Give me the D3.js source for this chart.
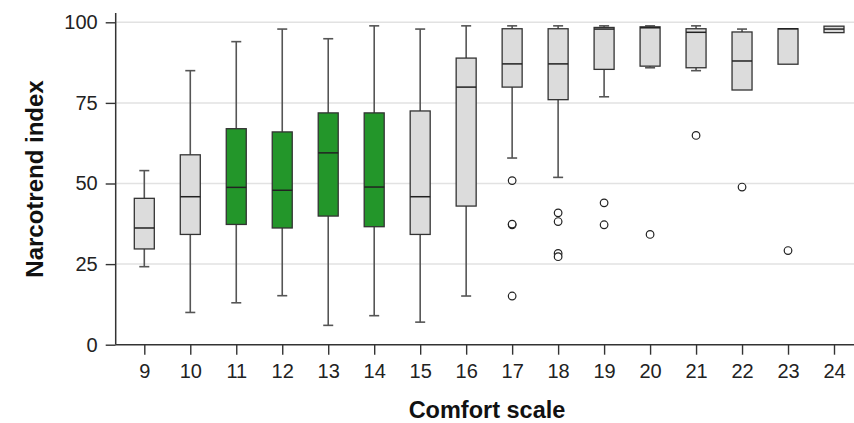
<!DOCTYPE html>
<html>
<head>
<meta charset="utf-8">
<script src="https://cdn.jsdelivr.net/npm/d3@7"></script>
<style>
  html, body { margin: 0; padding: 0; background: #fff; }
  svg { display: block; font-family: "Liberation Sans", Arial, sans-serif; }
</style>
</head>
<body>
<svg id="chart" width="854" height="423"></svg>
<script>
const categories   = [9, 10, 11, 12, 13, 14, 15, 16, 17, 18, 19, 20, 21, 22, 23, 24];
const whiskerHigh  = [54.0, 85.0, 94.0, 97.9, 94.9, 98.9, 97.9, 98.9, 98.9, 98.9, 98.9, 98.9, 98.9, 97.9, 98.0, 98.8];
const q3Values     = [45.4, 58.9, 67.0, 66.0, 71.9, 71.9, 72.5, 88.9, 98.0, 98.0, 98.4, 98.6, 98.0, 97.0, 98.0, 98.8];
const medianValues = [36.2, 45.9, 48.8, 47.9, 59.5, 48.9, 45.9, 79.9, 87.1, 87.1, 97.9, 98.3, 96.9, 88.0, 98.0, 97.9];
const q1Values     = [29.7, 34.2, 37.3, 36.2, 39.9, 36.6, 34.2, 43.0, 79.9, 76.0, 85.4, 86.4, 85.9, 79.0, 87.0, 96.8];
const whiskerLow   = [24.2, 10.0, 13.0, 15.2, 6.0, 9.0, 7.0, 15.1, 57.9, 51.9, 76.9, 85.9, 85.0, 79.0, 87.0, 96.8];
const highlighted  = [false, false, true, true, true, true, false, false, false, false, false, false, false, false, false, false];
const outlierCats  = [17, 17, 17, 17, 18, 18, 18, 18, 19, 19, 20, 21, 22, 23];
const outlierVals  = [50.9, 37.2, 37.4, 15.1, 40.9, 38.2, 28.3, 27.3, 44.0, 37.2, 34.2, 64.9, 48.9, 29.2];
const yTicks       = [0, 25, 50, 75, 100];
const xTitle = "Comfort scale";
const yTitle = "Narcotrend index";

const svg = d3.select("#chart");
const W = 854, H = 423;
const axisX = 115.7, axisY = 344.7;

const y = d3.scaleLinear().domain([0, 100]).range([axisY, 22.3]);
const x = d3.scalePoint().domain(categories).range([144.3, 834]);

const boxes = categories.map((c, i) => ({
  cat: c, lo: whiskerLow[i], q1: q1Values[i], med: medianValues[i],
  q3: q3Values[i], hi: whiskerHigh[i], hl: highlighted[i]
}));
const outliers = outlierCats.map((c, i) => ({ cat: c, v: outlierVals[i] }));

// gridlines
svg.append("g").selectAll("line")
  .data(yTicks.filter(t => t > 0))
  .join("line")
  .attr("x1", axisX).attr("x2", W)
  .attr("y1", d => y(d)).attr("y2", d => y(d))
  .attr("stroke", "#e2e2e2").attr("stroke-width", 1.5);

// y axis
const yAxis = d3.axisLeft(y).tickValues(yTicks).tickSize(10).tickPadding(8);
const gy = svg.append("g").attr("transform", `translate(${axisX},0)`).call(yAxis);
gy.select(".domain").remove();
gy.selectAll(".tick line").attr("stroke", "#333").attr("stroke-width", 1.4);
gy.selectAll(".tick text").attr("font-size", 20).attr("fill", "#222")
  .attr("font-family", "Liberation Sans, Arial, sans-serif");
svg.append("line").attr("x1", axisX).attr("x2", axisX).attr("y1", 13).attr("y2", axisY)
  .attr("stroke", "#333").attr("stroke-width", 1.5);

// x axis
const xAxis = d3.axisBottom(x).tickSize(10).tickPadding(9);
const gx = svg.append("g").attr("transform", `translate(0,${axisY})`).call(xAxis);
gx.select(".domain").remove();
gx.selectAll(".tick line").attr("stroke", "#333").attr("stroke-width", 1.4);
gx.selectAll(".tick text").attr("font-size", 20).attr("fill", "#222")
  .attr("font-family", "Liberation Sans, Arial, sans-serif");
svg.append("line").attr("x1", axisX).attr("x2", W).attr("y1", axisY).attr("y2", axisY)
  .attr("stroke", "#333").attr("stroke-width", 1.5);

// boxes
const bw = 20, capW = 10;
const gb = svg.append("g").selectAll("g").data(boxes).join("g");
gb.filter(d => d.hi > d.q3).append("line")
  .attr("x1", d => x(d.cat)).attr("x2", d => x(d.cat))
  .attr("y1", d => y(d.hi)).attr("y2", d => y(d.q3))
  .attr("stroke", "#555").attr("stroke-width", 1.6);
gb.filter(d => d.hi > d.q3).append("line")
  .attr("x1", d => x(d.cat) - capW / 2).attr("x2", d => x(d.cat) + capW / 2)
  .attr("y1", d => y(d.hi)).attr("y2", d => y(d.hi))
  .attr("stroke", "#555").attr("stroke-width", 1.6);
gb.filter(d => d.lo < d.q1).append("line")
  .attr("x1", d => x(d.cat)).attr("x2", d => x(d.cat))
  .attr("y1", d => y(d.q1)).attr("y2", d => y(d.lo))
  .attr("stroke", "#555").attr("stroke-width", 1.6);
gb.filter(d => d.lo < d.q1).append("line")
  .attr("x1", d => x(d.cat) - capW / 2).attr("x2", d => x(d.cat) + capW / 2)
  .attr("y1", d => y(d.lo)).attr("y2", d => y(d.lo))
  .attr("stroke", "#555").attr("stroke-width", 1.6);
gb.append("rect")
  .attr("x", d => x(d.cat) - bw / 2).attr("width", bw)
  .attr("y", d => y(d.q3)).attr("height", d => y(d.q1) - y(d.q3))
  .attr("fill", d => d.hl ? "#23962a" : "#dcdcdc")
  .attr("stroke", "#333").attr("stroke-width", 1.3);
gb.append("line")
  .attr("x1", d => x(d.cat) - bw / 2).attr("x2", d => x(d.cat) + bw / 2)
  .attr("y1", d => y(d.med)).attr("y2", d => y(d.med))
  .attr("stroke", "#222").attr("stroke-width", 1.5);

// outliers
svg.append("g").selectAll("circle").data(outliers).join("circle")
  .attr("cx", d => x(d.cat)).attr("cy", d => y(d.v)).attr("r", 3.8)
  .attr("fill", "#fff").attr("stroke", "#222").attr("stroke-width", 1.2);

// titles
svg.append("text").text(xTitle)
  .attr("x", 487).attr("y", 418)
  .attr("text-anchor", "middle").attr("font-weight", "bold").attr("font-size", 23.5).attr("fill", "#111");
svg.append("text").text(yTitle)
  .attr("transform", "translate(43,179) rotate(-90)")
  .attr("text-anchor", "middle").attr("font-weight", "bold").attr("font-size", 24).attr("fill", "#111");
</script>
</body>
</html>
